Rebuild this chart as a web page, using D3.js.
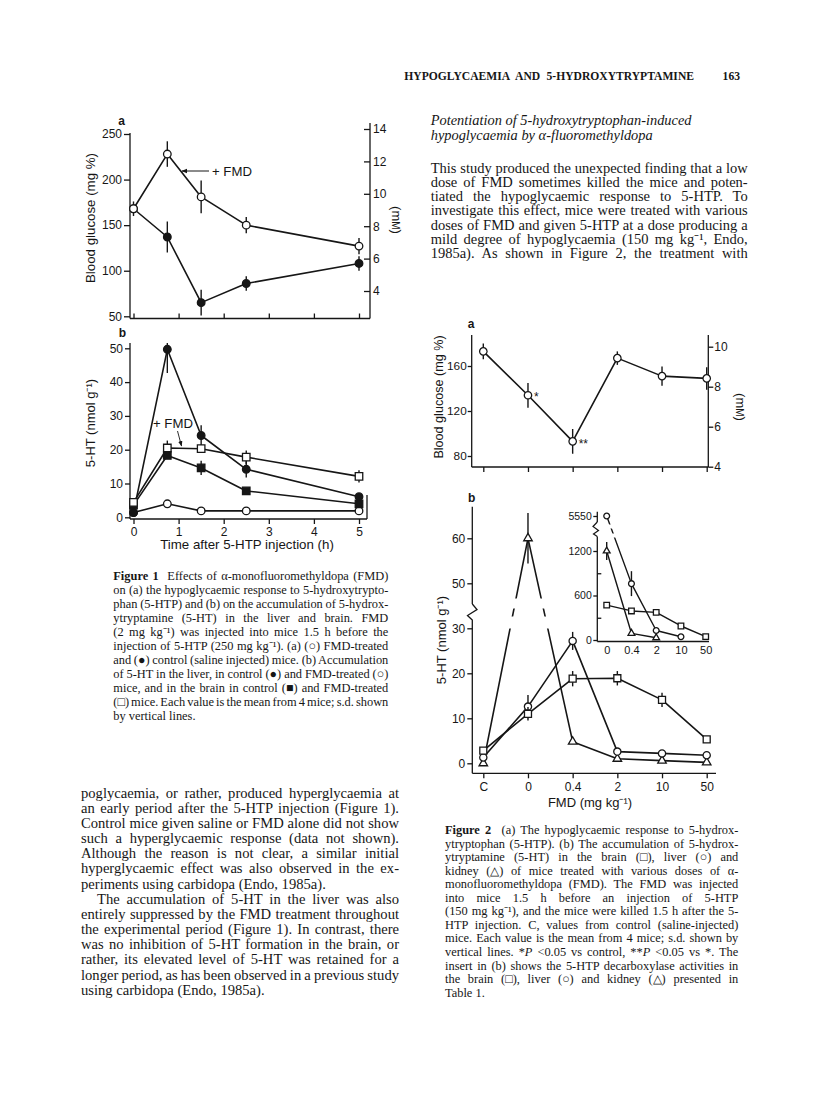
<!DOCTYPE html>
<html>
<head>
<meta charset="utf-8">
<title>Hypoglycaemia and 5-hydroxytryptamine</title>
<script src="https://d3js.org/d3.v7.min.js"></script>
<style>
    body { margin: 0; background: #fff; }
    svg { display: block; }
    .serif { font-family: "Liberation Serif", "Times New Roman", serif; fill: #161616; white-space: pre; }
    .sans { font-family: "Liberation Sans", Arial, sans-serif; fill: #161616; }
</style>
</head>
<body>
<svg width="816" height="1107"></svg>
<script>
    // ---------- Figure 1 data ----------
    const hours = [0, 0.75, 1.5, 2.5, 5];
    const hourTicks = [0, 1, 2, 3, 4, 5];
    const glucoseFMD = [168, 228, 181, 150, 127];
    const glucoseFMDsd = [0, 14, 18, 9, 9];
    const glucoseCtrl = [168, 137, 65, 86, 108];
    const glucoseCtrlSd = [8, 17, 14, 8, 8];
    const liverCtrl = [1.4, 49.7, 24.2, 14.2, 6.1];
    const liverCtrlSd = [0, 7, 3, 2.4, 1];
    const liverFMD = [1.4, 4.0, 1.9, 1.9, 1.9];
    const brainCtrl = [3.6, 18.3, 14.6, 7.8, 4.0];
    const brainCtrlSd = [0, 0, 2.1, 0, 0];
    const brainFMD = [4.4, 20.5, 20.3, 17.8, 12.1];
    const brainFMDsd = [0, 2.2, 0, 2, 1.8];

    // ---------- Figure 2 data ----------
    const doses = ["C", "0", "0.4", "2", "10", "50"];
    const glucose2 = [173, 134, 93, 167, 151, 149];
    const glucose2Sd = [7, 11, 11, 6, 8.5, 10];
    const brain2 = [2.8, 11.0, 18.8, 18.9, 14.1, 5.3];
    const brain2Sd = [0, 1.5, 1.7, 1.6, 1.6, 0];
    const liver2 = [1.3, 12.6, 27.2, 2.6, 2.2, 1.8];
    const liver2Sd = [0, 2.6, 2.0, 0, 0, 0];
    const kidney2 = [0, 60, 4.8, 1.0, 0.6, 0.2];
    const kidney2Sd = [0, 5.6, 0, 0, 0, 0];

    // insert: 5-HTP decarboxylase activities
    const insetDoses = ["0", "0.4", "2", "10", "50"];
    const insetBrain = [470, 392, 373, 189, 45];
    const insetLiver = [5550, 760, 128, 44];
    const insetLiverSd = [0, 168, 0, 0];
    const insetKidney = [1200, 90, 30];
    const insetKidneySd = [121, 0, 0];

    const ink = "#161616";
    const svg = d3.select("svg");
    const sansFont = '"Liberation Sans", Arial, sans-serif';
    const plainNum = d => String(d);

    const circle = r => d3.symbol(d3.symbolCircle, Math.PI * r * r)();
    const square = s => d3.symbol(d3.symbolSquare, s * s)();
    const triangle = s => d3.symbol(d3.symbolTriangle, Math.sqrt(3) / 4 * s * s)();

    // one data series: line, s.d. bars, markers
    function series(g, xs, vals, sds, x, y, shape, filled, lw) {
        const pts = vals.map((v, i) => ({ x: x(xs[i]), v: v, sd: sds ? sds[i] : 0 }));
        const line = g.append("path")
            .attr("d", d3.line().x(d => d.x).y(d => y(d.v))(pts))
            .attr("fill", "none").attr("stroke", ink)
            .attr("stroke-width", lw || 1.6).attr("stroke-linejoin", "round");
        g.selectAll(null).data(pts.filter(d => d.sd > 0)).join("line")
            .attr("x1", d => d.x).attr("x2", d => d.x)
            .attr("y1", d => y(d.v + d.sd)).attr("y2", d => y(d.v - d.sd))
            .attr("stroke", ink).attr("stroke-width", 1.4);
        g.selectAll(null).data(pts).join("path")
            .attr("transform", d => `translate(${d.x},${y(d.v)})`)
            .attr("d", shape)
            .attr("fill", filled ? ink : "#fff")
            .attr("stroke", ink).attr("stroke-width", 1.3);
        return line;
    }

    function axisStyle(g, size) {
        g.attr("font-family", sansFont).attr("font-size", size);
        g.select(".domain").remove();
        g.selectAll(".tick line").attr("stroke", ink).attr("stroke-width", 1.3);
        g.selectAll(".tick text").attr("fill", ink);
    }

    function vline(x, y1, y2) {
        svg.append("line").attr("x1", x).attr("x2", x).attr("y1", y1).attr("y2", y2)
            .attr("stroke", ink).attr("stroke-width", 1.3);
    }
    function hline(y, x1, x2) {
        svg.append("line").attr("x1", x1).attr("x2", x2).attr("y1", y).attr("y2", y)
            .attr("stroke", ink).attr("stroke-width", 1.3);
    }
    function label(x, y, str, size, opts) {
        opts = opts || {};
        const t = svg.append("text").attr("class", "sans")
            .attr("x", x).attr("y", y).attr("font-size", size)
            .attr("text-anchor", opts.anchor || "start")
            .attr("font-weight", opts.bold ? "bold" : null);
        if (opts.rotate) t.attr("transform", `rotate(${opts.rotate},${x},${y})`);
        return t.text(str);
    }
    function mMlabel(x, y) {
        const t = svg.append("text").attr("class", "sans").attr("x", x).attr("y", y)
            .attr("font-size", 13).attr("text-anchor", "middle")
            .attr("transform", `rotate(90,${x},${y})`);
        t.append("tspan").text("(m");
        t.append("tspan").attr("font-size", 10).text("M");
        t.append("tspan").text(")");
    }

    const defs = svg.append("defs");
    defs.append("marker").attr("id", "arrow").attr("viewBox", "0 0 10 10")
        .attr("refX", 9).attr("refY", 5).attr("markerWidth", 6).attr("markerHeight", 6)
        .attr("orient", "auto-start-reverse")
        .append("path").attr("d", "M0,1 L10,5 L0,9 Z").attr("fill", ink);

    // ================= FIGURE 1 =================
    const x1 = d3.scaleLinear([0, 5], [133.5, 359]);

    // (a) blood glucose
    const ya = d3.scaleLinear([50, 250], [316.3, 134]);
    const yaMM = d3.scaleLinear([4, 14], [291, 129]);
    vline(130, 133, 318.5);
    hline(318.5, 130, 370);
    vline(370, 123, 318.5);
    svg.append("g").attr("transform", "translate(130,0)")
        .call(d3.axisLeft(ya).tickValues([50, 100, 150, 200, 250]).tickFormat(plainNum).tickSize(6).tickPadding(2))
        .call(g => axisStyle(g, 12));
    svg.append("g").attr("transform", "translate(370,0)")
        .call(d3.axisRight(yaMM).tickValues([4, 6, 8, 10, 12, 14]).tickFormat(plainNum).tickSize(-6).tickPadding(3))
        .call(g => axisStyle(g, 12));
    svg.append("g").attr("transform", "translate(0,318.5)")
        .call(d3.axisBottom(x1).tickValues(hourTicks).tickSize(-5).tickFormat(""))
        .call(g => axisStyle(g, 12));

    const g1a = svg.append("g");
    series(g1a, hours, glucoseCtrl, glucoseCtrlSd, x1, ya, circle(3.8), true);
    series(g1a, hours, glucoseFMD, glucoseFMDsd, x1, ya, circle(3.8), false);

    label(121.5, 125, "a", 12, { bold: true, anchor: "middle" });
    label(90, 218, "Blood glucose (mg %)", 13.3, { anchor: "middle", rotate: -90 }).attr("dy", "0.35em");
    mMlabel(392, 220);
    svg.append("line").attr("x1", 209).attr("y1", 171).attr("x2", 182).attr("y2", 171)
        .attr("stroke", ink).attr("stroke-width", 1).attr("marker-end", "url(#arrow)");
    label(212, 175.5, "+ FMD", 13.2);

    // (b) 5-HT
    const yb = d3.scaleLinear([0, 50], [517.3, 348.3]);
    vline(130, 343, 519);
    hline(519, 130, 367);
    vline(367, 495, 519);
    svg.append("g").attr("transform", "translate(130,0)")
        .call(d3.axisLeft(yb).tickValues([0, 10, 20, 30, 40, 50]).tickFormat(plainNum).tickSize(5).tickPadding(2))
        .call(g => axisStyle(g, 12));
    svg.append("g").attr("transform", "translate(0,519)")
        .call(d3.axisBottom(x1).tickValues(hourTicks).tickFormat(plainNum).tickSize(5).tickPadding(3))
        .call(g => axisStyle(g, 12));

    defs.append("clipPath").attr("id", "clip1b")
        .append("rect").attr("x", 100).attr("y", 343).attr("width", 300).attr("height", 200);
    const g1b = svg.append("g").attr("clip-path", "url(#clip1b)");
    series(g1b, hours, liverFMD, null, x1, yb, circle(3.8), false);
    series(g1b, hours, liverCtrl, liverCtrlSd, x1, yb, circle(3.8), true);
    series(g1b, hours, brainCtrl, brainCtrlSd, x1, yb, square(7.5), true);
    series(g1b, hours, brainFMD, brainFMDsd, x1, yb, square(7.5), false);

    label(122.5, 337, "b", 12, { bold: true, anchor: "middle" });
    label(90, 423, "5-HT (nmol g\u207B\u00B9)", 13, { anchor: "middle", rotate: -90 }).attr("dy", "0.35em");
    label(247, 549, "Time after 5-HTP injection (h)", 13.3, { anchor: "middle" });
    label(153, 428, "+ FMD", 13.2);
    svg.append("line").attr("x1", 177.5).attr("y1", 431).attr("x2", 181.5).attr("y2", 446)
        .attr("stroke", ink).attr("stroke-width", 0.9).attr("marker-end", "url(#arrow)");

    // ================= FIGURE 2 =================
    const x2 = d3.scalePoint(doses, [483.3, 706.7]);

    // (a) blood glucose
    const yg = d3.scaleLinear([80, 160], [456, 366]);
    const ygMM = d3.scaleLinear([4, 10], [466.7, 346.7]);
    vline(471.7, 335, 467);
    hline(467, 471.7, 708.3);
    vline(708.3, 335, 467);
    svg.append("g").attr("transform", "translate(471.7,0)")
        .call(d3.axisLeft(yg).tickValues([80, 120, 160]).tickFormat(plainNum).tickSize(4).tickPadding(1))
        .call(g => axisStyle(g, 11.8));
    svg.append("g").attr("transform", "translate(708.3,0)")
        .call(d3.axisRight(ygMM).tickValues([4, 6, 8, 10]).tickFormat(plainNum).tickSize(5).tickPadding(1))
        .call(g => axisStyle(g, 12));
    svg.append("g").attr("transform", "translate(0,467)")
        .call(d3.axisBottom(x2).tickSize(5).tickFormat(""))
        .call(g => axisStyle(g, 12));

    const g2a = svg.append("g");
    series(g2a, doses, glucose2, glucose2Sd, x2, yg, circle(3.7), false);
    label(x2("0") + 6, yg(glucose2[1]) + 6, "*", 12);
    label(x2("0.4") + 6, yg(glucose2[2]) + 7, "**", 12);

    label(471, 328, "a", 12, { bold: true, anchor: "middle" });
    label(438.5, 397, "Blood glucose (mg %)", 12.6, { anchor: "middle", rotate: -90 }).attr("dy", "0.35em");
    mMlabel(736, 407);

    // (b) 5-HT with broken axis (values above 40 drawn 10 units lower)
    const ys = d3.scaleLinear([0, 50], [763.3, 538.3]);
    const yB = v => ys(v > 40 ? v - 10 : v);
    vline(472.3, 506.7, 604);
    vline(472.3, 623, 773.3);
    svg.append("path").attr("d", "M472.3,604 L477,609.5 L467.5,615.5 L472.3,620 L472.3,623")
        .attr("fill", "none").attr("stroke", ink).attr("stroke-width", 1.3);
    hline(773.3, 472.3, 716);
    svg.append("g").attr("transform", "translate(472.3,0)")
        .call(d3.axisLeft(ys).tickValues([0, 10, 20, 30, 40, 50]).tickSize(5).tickPadding(2)
            .tickFormat(d => String(d > 30 ? d + 10 : d)))
        .call(g => axisStyle(g, 12));
    svg.append("g").attr("transform", "translate(0,773.3)")
        .call(d3.axisBottom(x2).tickSize(5).tickPadding(4))
        .call(g => axisStyle(g, 12));

    // gaps where the kidney line crosses the axis break
    const mask = defs.append("mask").attr("id", "breakMask")
        .attr("maskUnits", "userSpaceOnUse").attr("x", 0).attr("y", 0).attr("width", 816).attr("height", 1107);
    mask.append("rect").attr("width", 816).attr("height", 1107).attr("fill", "#fff");
    mask.append("rect").attr("x", 490).attr("y", 598.5).attr("width", 70).attr("height", 10).attr("fill", "#000");
    mask.append("rect").attr("x", 490).attr("y", 616.5).attr("width", 70).attr("height", 12).attr("fill", "#000");

    const g2b = svg.append("g");
    series(g2b, doses, kidney2, kidney2Sd, x2, yB, triangle(8.5), false).attr("mask", "url(#breakMask)");
    series(g2b, doses, liver2, liver2Sd, x2, yB, circle(3.6), false);
    series(g2b, doses, brain2, brain2Sd, x2, yB, square(7), false);

    label(471.7, 502, "b", 12, { bold: true, anchor: "middle" });
    label(441.5, 640, "5-HT (nmol g\u207B\u00B9)", 13, { anchor: "middle", rotate: -90 }).attr("dy", "0.35em");
    label(590, 807, "FMD (mg kg\u207B\u00B9)", 13, { anchor: "middle" });

    // insert
    const xi = d3.scalePoint(insetDoses, [606.7, 705.7]);
    const yi = d3.scaleLinear([0, 1200], [640, 551]);
    const yiHi = d3.scaleLinear([5400, 5700], [520.5, 511.5]);
    const yI = v => v > 3000 ? yiHi(v) : yi(v);
    vline(597.3, 511.7, 522);
    vline(597.3, 536.5, 641.5);
    svg.append("path").attr("d", "M597.3,522 L593,526.5 L598.5,530.5 L593.5,534 L597.3,536.5")
        .attr("fill", "none").attr("stroke", ink).attr("stroke-width", 1.2);
    hline(641.5, 597.3, 709);
    svg.append("g").attr("transform", "translate(597.3,0)")
        .call(d3.axisLeft(yi).tickValues([0, 600, 1200]).tickFormat(plainNum).tickSize(4).tickPadding(1.5))
        .call(g => axisStyle(g, 10.5));
    svg.append("g").attr("transform", "translate(597.3,0)")
        .call(d3.axisLeft(yiHi).tickValues([5550]).tickFormat(plainNum).tickSize(4).tickPadding(1.5))
        .call(g => axisStyle(g, 10.5));
    svg.append("g").attr("transform", "translate(597.3,0)")
        .call(d3.axisLeft(yi).tickValues([300, 900]).tickSize(-4).tickFormat(""))
        .call(g => axisStyle(g, 10.5));
    svg.append("g").attr("transform", "translate(0,641.5)")
        .call(d3.axisBottom(xi).tickSize(0).tickPadding(5))
        .call(g => axisStyle(g, 11));

    const maskI = defs.append("mask").attr("id", "insetMask")
        .attr("maskUnits", "userSpaceOnUse").attr("x", 0).attr("y", 0).attr("width", 816).attr("height", 1107);
    maskI.append("rect").attr("width", 816).attr("height", 1107).attr("fill", "#fff");
    maskI.append("rect").attr("x", 608).attr("y", 524.5).attr("width", 15).attr("height", 4).attr("fill", "#000");
    maskI.append("rect").attr("x", 608).attr("y", 533.5).attr("width", 15).attr("height", 4).attr("fill", "#000");

    const gIn = svg.append("g");
    series(gIn, insetDoses, insetBrain, null, xi, yI, square(5.6), false, 1.4);
    series(gIn, insetDoses, insetKidney, insetKidneySd, xi, yI, triangle(6.8), false, 1.4);
    series(gIn, insetDoses, insetLiver, insetLiverSd, xi, yI, circle(2.9), false, 1.4).attr("mask", "url(#insetMask)");

    // ================= PAGE TEXT =================
    const header = "HYPOGLYCAEMIA AND 5-HYDROXYTRYPTAMINE";
    const pageNo = "163";

    const headingLines = [
        "Potentiation of 5-hydroxytryptophan-induced",
        "hypoglycaemia by \u03B1-fluoromethyldopa"
    ];
    // "»" = paragraph indent, "¶" = last line of a paragraph (not justified)
    const rightBody = [
        "This study produced the unexpected finding that a low",
        "dose of FMD sometimes killed the mice and poten-",
        "tiated the hypoglycaemic response to 5-HTP. To",
        "investigate this effect, mice were treated with various",
        "doses of FMD and given 5-HTP at a dose producing a",
        "mild degree of hypoglycaemia (150 mg kg\u207B\u00B9, Endo,",
        "1985a). As shown in Figure 2, the treatment with"
    ];
    const fig1Caption = [
        "<b>Figure 1</b>  Effects of \u03B1-monofluoromethyldopa (FMD)",
        "on (a) the hypoglycaemic response to 5-hydroxytrypto-",
        "phan (5-HTP) and (b) on the accumulation of 5-hydrox-",
        "ytryptamine (5-HT) in the liver and brain. FMD",
        "(2 mg kg\u207B\u00B9) was injected into mice 1.5 h before the",
        "injection of 5-HTP (250 mg kg\u207B\u00B9). (a) (\u25CB) FMD-treated",
        "and (\u25CF) control (saline injected) mice. (b) Accumulation",
        "of 5-HT in the liver, in control (\u25CF) and FMD-treated (\u25CB)",
        "mice, and in the brain in control (\u25A0) and FMD-treated",
        "(\u25A1) mice. Each value is the mean from 4 mice; s.d. shown",
        "by vertical lines.\u00B6"
    ];
    const leftBody = [
        "poglycaemia, or rather, produced hyperglycaemia at",
        "an early period after the 5-HTP injection (Figure 1).",
        "Control mice given saline or FMD alone did not show",
        "such a hyperglycaemic response (data not shown).",
        "Although the reason is not clear, a similar initial",
        "hyperglycaemic effect was also observed in the ex-",
        "periments using carbidopa (Endo, 1985a).\u00B6",
        "\u00BBThe accumulation of 5-HT in the liver was also",
        "entirely suppressed by the FMD treatment throughout",
        "the experimental period (Figure 1). In contrast, there",
        "was no inhibition of 5-HT formation in the brain, or",
        "rather, its elevated level of 5-HT was retained for a",
        "longer period, as has been observed in a previous study",
        "using carbidopa (Endo, 1985a).\u00B6"
    ];
    const fig2Caption = [
        "<b>Figure 2</b>  (a) The hypoglycaemic response to 5-hydrox-",
        "ytryptophan (5-HTP). (b) The accumulation of 5-hydrox-",
        "ytryptamine (5-HT) in the brain (\u25A1), liver (\u25CB) and",
        "kidney (\u25B3) of mice treated with various doses of \u03B1-",
        "monofluoromethyldopa (FMD). The FMD was injected",
        "into mice 1.5 h before an injection of 5-HTP",
        "(150 mg kg\u207B\u00B9), and the mice were killed 1.5 h after the 5-",
        "HTP injection. C, values from control (saline-injected)",
        "mice. Each value is the mean from 4 mice; s.d. shown by",
        "vertical lines. *<i>P</i> <0.05 vs control, **<i>P</i> <0.05 vs *. The",
        "insert in (b) shows the 5-HTP decarboxylase activities in",
        "the brain (\u25A1), liver (\u25CB) and kidney (\u25B3) presented in",
        "Table 1.\u00B6"
    ];

    function run(t, str, attrs) {
        const sp = t.append("tspan").text(str);
        if (attrs) Object.entries(attrs).forEach(([k, v]) => sp.attr(k, v));
    }
    function rich(t, str) {
        const re = /<(b|i)>(.*?)<\/\1>/g;
        let last = 0, m;
        while ((m = re.exec(str))) {
            if (m.index > last) run(t, str.slice(last, m.index));
            run(t, m[2], m[1] === "b" ? { "font-weight": "bold" } : { "font-style": "italic" });
            last = re.lastIndex;
        }
        if (last < str.length) run(t, str.slice(last));
    }

    // justified lines: word spacing stretches each line to the column width
    function block(lines, x, y0, step, width, size, opts) {
        opts = opts || {};
        lines.forEach((raw, i) => {
            let s = raw, indent = 0, justify = opts.justify !== false;
            if (s.startsWith("\u00BB")) { s = s.slice(1); indent = 16; }
            if (s.endsWith("\u00B6")) { s = s.slice(0, -1); justify = false; }
            const t = svg.append("text").attr("class", "serif")
                .attr("x", x + indent).attr("y", y0 + i * step).attr("font-size", size)
                .attr("font-style", opts.italic ? "italic" : null)
                .attr("font-weight", opts.bold ? "bold" : null);
            rich(t, s);
            if (justify) {
                const plain = s.replace(/<\/?[bi]>/g, "");
                const spaces = (plain.match(/ /g) || []).length;
                const w = t.node().getComputedTextLength();
                if (spaces > 0) t.attr("word-spacing", ((width - indent) - w) / spaces);
            }
        });
    }

    block([header], 404.3, 79.8, 0, 289.7, 11.6, { bold: true });
    svg.append("text").attr("class", "serif").attr("x", 740).attr("y", 79.8)
        .attr("font-size", 11.6).attr("font-weight", "bold").attr("text-anchor", "end").text(pageNo);

    block(headingLines, 430.7, 124.8, 15.6, 262, 14.4, { italic: true, justify: false });
    block(rightBody, 430.7, 172.5, 14.28, 317, 14.5);
    block(fig1Caption, 113.3, 580, 14.0, 275, 12.4);
    block(leftBody, 81, 797.5, 15.18, 318, 14.6);
    block(fig2Caption, 445, 834, 13.55, 293.3, 12.4);
</script>
</body>
</html>
